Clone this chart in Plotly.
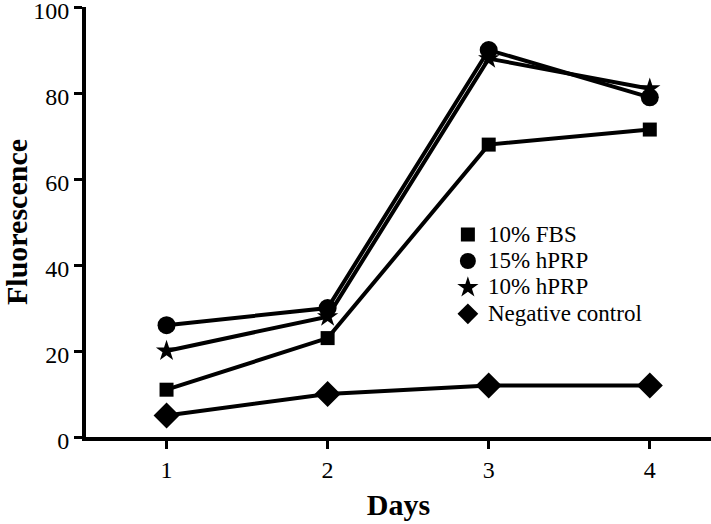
import plotly.graph_objects as go

days = [1, 2, 3, 4]
fbs10 = [11, 23, 68, 71.5]
hprp15 = [26, 30, 90, 79]
hprp10 = [20, 28, 88, 81]
neg = [5, 10, 12, 12]

series = [
    ("10% FBS", fbs10, "square", 14),
    ("15% hPRP", hprp15, "circle", 18),
    ("10% hPRP", hprp10, "star", 16),
    ("Negative control", neg, "diamond", 20),
]

font = "Liberation Serif"

fig = go.Figure()
for name, vals, sym, sz in series:
    fig.add_trace(go.Scatter(
        x=days, y=vals, mode="lines", line=dict(color="black", width=4),
        showlegend=False, hoverinfo="skip"))
for name, vals, sym, sz in series:
    fig.add_trace(go.Scatter(
        x=days, y=vals, mode="markers",
        name='<span style="font-size:23px">' + name + '</span>',
        marker=dict(symbol=sym, size=sz, color="black")))

fig.update_layout(
    width=711, height=524,
    margin=dict(l=86, r=0, t=7, b=87),
    plot_bgcolor="white", paper_bgcolor="white",
    font=dict(family=font, color="black", size=24),
    legend=dict(x=0.579, y=0.513, xanchor="left", yanchor="top",
                font=dict(size=18, family=font, color="black"),
                bgcolor="rgba(0,0,0,0)",
                tracegroupgap=0, itemsizing="trace"),
    xaxis=dict(range=[0.5, 4.38], tickvals=days, ticktext=["1", "2", "3", "4"],
               showline=True, linecolor="black", linewidth=4,
               ticks="outside", ticklen=8, tickwidth=3, tickcolor="black",
               showgrid=False, zeroline=False, automargin=False,
               tickfont=dict(size=24, family=font, color="black"),
               title=dict(text="<b>Days</b>", font=dict(size=30, family=font), standoff=13)),
    yaxis=dict(range=[0, 100], tickvals=[0, 20, 40, 60, 80, 100],
               showline=True, linecolor="black", linewidth=4,
               ticks="outside", ticklen=8, tickwidth=3, tickcolor="black",
               showgrid=False, zeroline=False, automargin=False,
               ticklabeloverflow="allow", ticklabelshift=4,
               tickfont=dict(size=24, family=font, color="black"),
               title=dict(text="<b>Fluorescence</b>", font=dict(size=30, family=font), standoff=2)),
)

fig.write_html("out.html", config={"displayModeBar": False},
               post_script="document.body.style.margin='0';")
